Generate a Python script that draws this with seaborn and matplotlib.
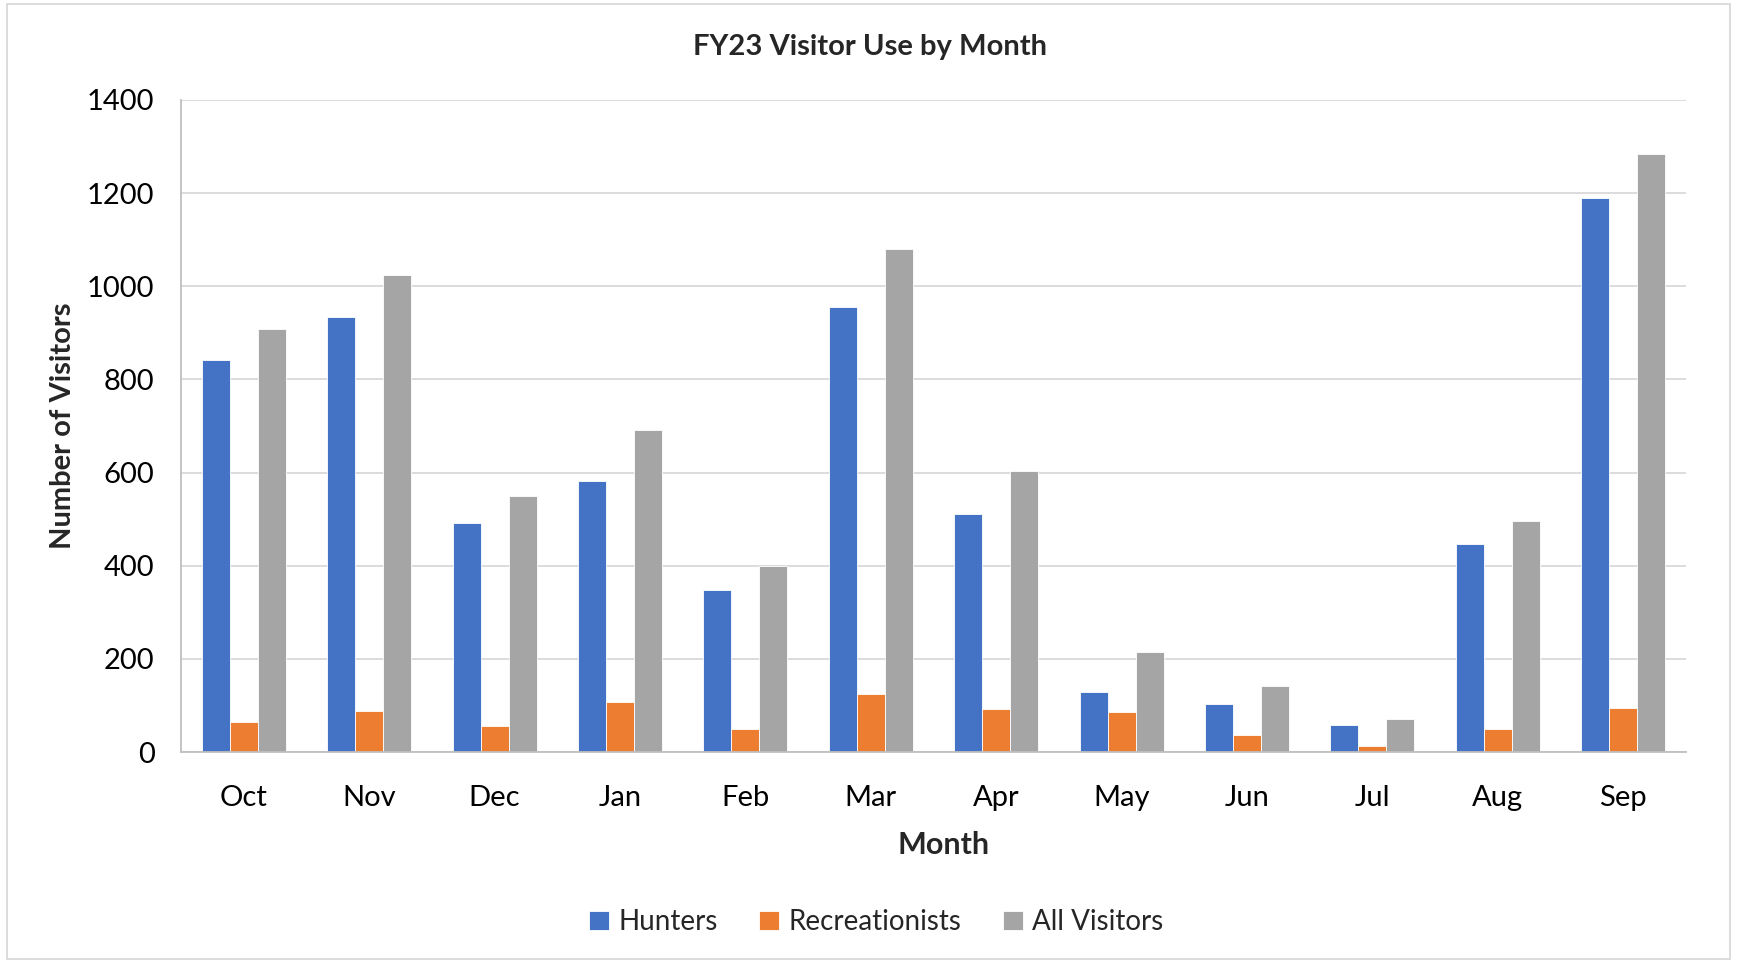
import pandas as pd
import numpy as np
import matplotlib.pyplot as plt
import seaborn as sns
from matplotlib.patches import Rectangle

# --- Data ---
months = ['Oct', 'Nov', 'Dec', 'Jan', 'Feb', 'Mar', 'Apr', 'May', 'Jun', 'Jul', 'Aug', 'Sep']
hunters = [842, 933, 492, 582, 348, 956, 511, 128, 104, 59, 447, 1189]
recreationists = [65, 89, 56, 108, 49, 124, 93, 85, 37, 12, 50, 95]
all_visitors = [909, 1024, 550, 691, 400, 1081, 603, 214, 142, 70, 497, 1284]

series_names = ['Hunters', 'Recreationists', 'All Visitors']
colors = ['#4472C4', '#ED7D31', '#A5A5A5']

df = pd.DataFrame({'Month': months, 'Hunters': hunters,
                   'Recreationists': recreationists, 'All Visitors': all_visitors})
long_df = df.melt(id_vars='Month', var_name='Group', value_name='Visitors')

sns.set_style('white')
plt.rcParams['font.family'] = ['Lato', 'DejaVu Sans']

fig = plt.figure(figsize=(17.37, 9.63), dpi=100)
ax = fig.add_axes([181 / 1737, 1 - 752 / 963, (1686 - 181) / 1737, (752 - 100) / 963])

sns.barplot(data=long_df, x='Month', y='Visitors', hue='Group', hue_order=series_names,
            palette=colors, order=months, width=0.67, saturation=1,
            edgecolor='white', linewidth=0.6, ax=ax, legend=True)

ax.set_ylim(0, 1400)
ax.set_yticks(np.arange(0, 1401, 200))
ax.set_xlim(-0.5, len(months) - 0.5)
ax.yaxis.grid(True, color='#D9D9D9', linewidth=1.3)
ax.set_axisbelow(True)
for s in ['top', 'right']:
    ax.spines[s].set_visible(False)
ax.spines['left'].set_color('#BFBFBF')
ax.spines['bottom'].set_color('#BFBFBF')
ax.spines['left'].set_linewidth(1.3)
ax.spines['bottom'].set_linewidth(1.3)
ax.tick_params(axis='both', length=0, labelsize=21, colors='black')
ax.tick_params(axis='x', pad=24)
ax.tick_params(axis='y', pad=19)

ax.set_xlabel('Month', fontsize=22, fontweight='bold', labelpad=14)
ax.xaxis.label.set_x(0.5066)
ax.set_ylabel('Number of Visitors', fontsize=21, fontweight='bold', labelpad=8)

fig.text(0.501, 1 - 47 / 963, 'FY23 Visitor Use by Month',
         ha='center', va='center', fontsize=21, fontweight='bold')

handles, labels = ax.get_legend_handles_labels()
ax.get_legend().remove()
fig.legend(handles, labels, loc='center', bbox_to_anchor=(0.5045, 1 - 922 / 963),
           ncol=3, frameon=False, fontsize=20,
           handlelength=0.7, handleheight=0.7, handletextpad=0.35, columnspacing=1.5)

# light border round the chart area
fig.patches.append(Rectangle((0.004, 0.004), 0.992, 0.992, transform=fig.transFigure,
                             fill=False, edgecolor='#D9D9D9', linewidth=1.3))

fig.savefig('out.png', dpi=100)
